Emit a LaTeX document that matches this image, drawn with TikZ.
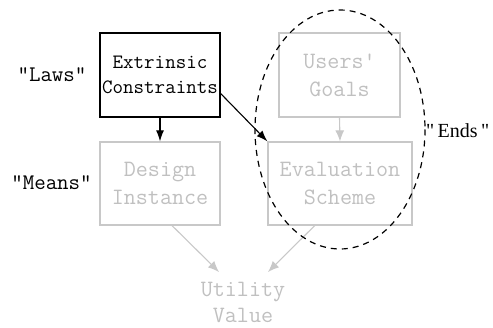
\documentclass[tikz,border=0pt]{standalone}
\usepackage{fontspec}
\usetikzlibrary{arrows.meta,calc}
\newfontfamily\seriffam{Liberation Serif}
\definecolor{faded}{HTML}{C8C8C8}
\definecolor{fadedtext}{HTML}{C0C0C0}
\tikzset{
  boxtext/.style={font={\ttfamily\fontsize{23.4}{28}\selectfont}, align=center},
  activebox/.style={draw=black, line width=1.3pt, inner sep=0pt, align=center,
    font={\ttfamily\fontsize{20.4}{25}\selectfont}},
  fadedbox/.style={boxtext, draw=faded, text=fadedtext, line width=1.3pt, inner sep=0pt},
  sidelabel/.style={font={\ttfamily\fontsize{22.3}{24}\selectfont}, inner sep=0pt},
  darkarrow/.style={draw=black, line width=1.1pt, -{Latex[length=11pt,width=8pt]}},
  fadedarrow/.style={draw=faded, line width=1.1pt, -{Latex[length=11pt,width=9pt]}},
  endsregion/.style={draw=black, line width=1.2pt, dash pattern=on 6pt off 5pt}
}
\begin{document}
\begin{tikzpicture}[x=1pt,y=-1pt]
  \useasboundingbox (0,0) rectangle (493,328);

  % boxes
  \node[activebox, minimum width=120pt, minimum height=84pt] (ext) at (160,75)
    {Extrinsic\\Constraints};
  \node[fadedbox, minimum width=120pt, minimum height=83pt] (design) at (160,183.5)
    {Design\\Instance};
  \node[fadedbox, minimum width=121pt, minimum height=84pt] (goals) at (339.5,75)
    {Users'\\Goals};
  \node[fadedbox, minimum width=144pt, minimum height=83pt] (eval) at (340,183.5)
    {Evaluation\\Scheme};
  \node[font={\ttfamily\fontsize{23.4}{26}\selectfont}, align=center,
    text=fadedtext, inner sep=0pt] (util) at (243,302)
    {Utility\\Value};

  % side labels
  \node[sidelabel] (laws) at (52,75) {"Laws"};
  \node[sidelabel] (means) at (51.5,183) {"Means"};
  \node[font={\seriffam\fontsize{20}{24}\selectfont}, inner sep=0pt, anchor=west]
    (ends) at (426,131) {"\,Ends\,"};

  % arrow ends above the result
  \coordinate (u1) at (219,272);
  \coordinate (u2) at (268,272);

  % connectors
  \draw[darkarrow] (ext.south) -- (design.north);
  \draw[darkarrow] (ext.-17) -- (eval.north west);
  \draw[fadedarrow] (goals.south) -- (eval.north);
  \draw[fadedarrow] (design.-74) -- (u1);
  \draw[fadedarrow] (eval.-121) -- (u2);

  % dashed region round the ends
  \draw[endsregion] (340,129.5) ellipse [x radius=85, y radius=119.5];
\end{tikzpicture}
\end{document}
